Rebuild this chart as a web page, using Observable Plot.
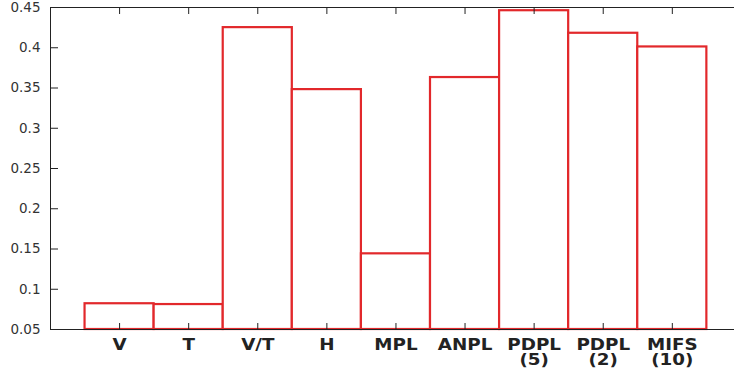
<!DOCTYPE html>
<html>
<head>
<meta charset="utf-8">
<script src="https://cdn.jsdelivr.net/npm/d3@7"></script>
<script src="https://cdn.jsdelivr.net/npm/@observablehq/plot@0.6"></script>
<style>
  html, body { margin: 0; padding: 0; background: #fff; }
  #chart svg { display: block; }
</style>
</head>
<body>
<div id="chart"></div>
<script>
const categories = ["V", "T", "V/T", "H", "MPL", "ANPL", "PDPL\n(5)", "PDPL\n(2)", "MIFS\n(10)"];
const values = [0.082, 0.081, 0.425, 0.348, 0.144, 0.363, 0.446, 0.418, 0.401];
const yTicks = [0.05, 0.1, 0.15, 0.2, 0.25, 0.3, 0.35, 0.4, 0.45];
const baseline = 0.05;

const positions = categories.map((c, i) => i + 1);
const data = categories.map((c, i) => ({label: c, pos: i + 1, value: values[i]}));

const red = "#e2282b";
const axisColor = "#222";

const chart = Plot.plot({
  width: 734,
  height: 373,
  marginLeft: 50,
  marginRight: 0,
  marginTop: 7,
  marginBottom: 44,
  x: {domain: [0, 9.9], axis: null},
  y: {domain: [0.05, 0.45], axis: null},
  style: {background: "white"},
  marks: [
    Plot.rect(data, {
      x1: d => d.pos - 0.5,
      x2: d => d.pos + 0.5,
      y1: baseline,
      y2: "value",
      fill: "white",
      stroke: red,
      strokeWidth: 2.2
    }),
    Plot.ruleY([0.05], {stroke: axisColor, strokeWidth: 1}),
    Plot.ruleY([0.45], {stroke: axisColor, strokeWidth: 1}),
    Plot.ruleX([0], {stroke: axisColor, strokeWidth: 1}),
    Plot.axisY({
      anchor: "left",
      ticks: yTicks,
      tickSize: -8,
      tickPadding: 18,
      stroke: axisColor,
      fill: "#333",
      fontSize: 13.5,
      fontFamily: "DejaVu Sans",
      tickFormat: d => String(+d.toFixed(2)),
      label: null
    }),
    Plot.axisX({
      anchor: "bottom",
      ticks: positions,
      tickSize: -6,
      tickPadding: 16,
      stroke: axisColor,
      fill: "#222",
      fontSize: 15,
      fontWeight: "bold",
      fontFamily: "DejaVu Sans",
      lineHeight: 1,
      tickFormat: d => categories[d - 1],
      label: null
    }),
    Plot.axisX({
      anchor: "top",
      ticks: positions,
      tickSize: -6,
      stroke: axisColor,
      tickFormat: () => "",
      label: null
    })
  ]
});

// widen the category labels horizontally, as in the reference
d3.select(chart).selectAll('g[aria-label="x-axis tick label"] text').each(function() {
  const t = this.getAttribute("transform");
  if (t) this.setAttribute("transform", t + " scale(1.22,1)");
});

document.getElementById("chart").appendChild(chart);
</script>
</body>
</html>
